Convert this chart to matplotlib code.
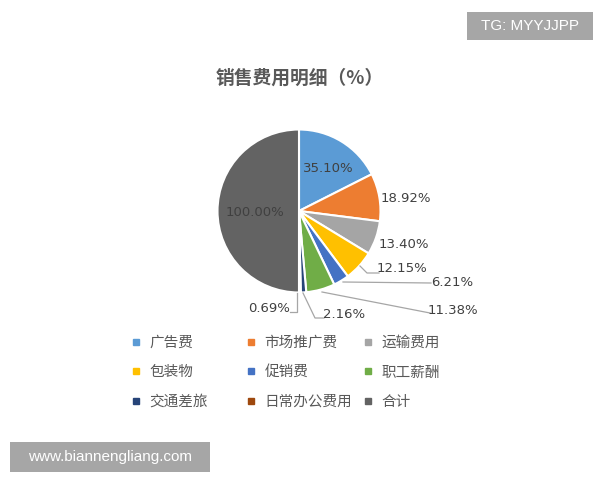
import matplotlib
matplotlib.use("Agg")
import matplotlib.pyplot as plt
from matplotlib.lines import Line2D
from matplotlib.legend import Legend
from matplotlib.patches import Rectangle

plt.rcParams["font.family"] = ["Noto Sans CJK SC", "DejaVu Sans"]

# data
categories = ["广告费", "市场推广费", "运输费用", "包装物", "促销费",
              "职工薪酬", "交通差旅", "日常办公费用", "合计"]
values = [35.10, 18.92, 13.40, 12.15, 6.21, 11.38, 2.16, 0.69, 100.00]
colors = ["#5B9BD5", "#ED7D31", "#A5A5A5", "#FFC000", "#4472C4",
          "#70AD47", "#264478", "#9E480E", "#636363"]
pct_labels = ["%.2f%%" % v for v in values]

W, H = 600, 480
def Y(py):
    return H - py

fig = plt.figure(figsize=(6, 4.8), dpi=100)
ax = fig.add_axes([0, 0, 1, 1])

cx, cy, R = 299, 211, 81.5
ax.pie(values, colors=colors, startangle=90, counterclock=False,
       center=(cx, Y(cy)), radius=R,
       wedgeprops=dict(edgecolor="white", linewidth=1.5))

# label positions (pixel coords) and leader lines
label_pos = [(328, 168), (406, 199), (404, 244), (402, 269), (452, 282),
             (453, 311), (344, 315), (269, 308), (255, 213)]
leaders = {
    3: [(360, 266), (367, 273), (379, 273)],
    4: [(343, 282), (431, 283)],
    5: [(322, 292), (430, 313)],
    6: [(303, 293), (315, 318), (324, 318)],
    7: [(297, 293), (297, 312), (290, 312)],
}
for i, (lab, (px, py)) in enumerate(zip(pct_labels, label_pos)):
    ax.text(px, Y(py), lab, ha="center", va="center", fontsize=9.5,
            color="#404040", family="DejaVu Sans")
    if i in leaders:
        xs = [p[0] for p in leaders[i]]
        ys = [Y(p[1]) for p in leaders[i]]
        ax.plot(xs, ys, color="#A6A6A6", lw=0.9)

ax.set_xlim(0, W)
ax.set_ylim(0, H)
ax.set_aspect("equal")
ax.axis("off")

# title
ax.text(300, Y(78), "销售费用明细（%）", ha="center", va="center",
        fontsize=13.5, fontweight="bold", color="#595959")

# legend, three columns placed separately
handles = [Line2D([], [], marker="s", ls="none", ms=5, color=c) for c in colors]
col_x = [131, 246, 363]
for k in range(3):
    idx = [k, k + 3, k + 6]
    leg = Legend(ax, [handles[i] for i in idx], [categories[i] for i in idx],
                 loc="upper left", bbox_to_anchor=(col_x[k] / W, 1 - 336 / H),
                 bbox_transform=fig.transFigure, frameon=False,
                 fontsize=10.5, handlelength=0.7, handletextpad=0.55,
                 labelspacing=1.05, borderpad=0, borderaxespad=0,
                 labelcolor="#595959")
    ax.add_artist(leg)

# watermark boxes
fig.patches.append(Rectangle((467 / W, 1 - 40 / H), 126 / W, 28 / H,
                             transform=fig.transFigure, fc="#A6A6A6", ec="none"))
fig.text(530 / W, 1 - 26 / H, "TG: MYYJJPP", ha="center", va="center",
         color="white", fontsize=11, family="Liberation Sans")
fig.patches.append(Rectangle((10 / W, 1 - 472 / H), 200 / W, 30 / H,
                             transform=fig.transFigure, fc="#A6A6A6", ec="none"))
fig.text(110 / W, 1 - 457 / H, "www.biannengliang.com", ha="center", va="center",
         color="white", fontsize=11, family="Liberation Sans")

fig.savefig("out.png", dpi=100)
